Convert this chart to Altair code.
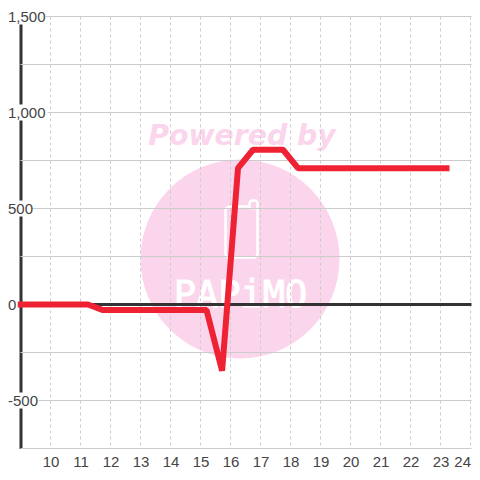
import altair as alt
import pandas as pd

# Series
hours = [8.9, 11.25, 11.75, 15.2, 15.72, 16.25, 16.75, 17.75, 18.25, 23.3]
values = [0, 0, -29, -29, -345, 710, 806, 806, 710, 710]

# Axes
x_ticks = list(range(10, 25))
y_grid = [1500, 1250, 1000, 750, 500, 250, -250, -500, -750]
y_labels = ["1,500", "1,000", "500", "0", "-500"]
y_label_values = [1500, 1000, 500, 0, -500]

X_DOMAIN = [9.0, 24.033]
Y_DOMAIN = [-750, 1500]
FONT = "Liberation Sans"
GRID = "#cccccc"
DARK = "#333333"
TEXT = "#444444"
RED = "#ee2233"
PINK = "#fbd5ec"

x_scale = alt.Scale(domain=X_DOMAIN, nice=False, zero=False)
y_scale = alt.Scale(domain=Y_DOMAIN, nice=False, zero=False)
x_axis = alt.Axis(
    values=x_ticks, grid=False, domain=False, ticks=False, labelPadding=6,
    labelFontSize=15, labelFont=FONT, labelColor=TEXT, format="d",
    labelOverlap=False, labelFlush=False, title=None,
    labelAlign={"condition": {"test": "datum.value == 24", "value": "right"}, "value": "center"},
)
y_axis = alt.Axis(
    values=y_label_values, grid=False, ticks=False, labels=False,
    domain=True, domainColor=DARK, domainWidth=3, title=None,
)

series = pd.DataFrame({"hour": hours, "value": values})
grid_h = pd.DataFrame({"value": y_grid})
grid_v = pd.DataFrame({"hour": x_ticks, "top": [1500] * len(x_ticks), "bottom": [-738] * len(x_ticks)})
labels = pd.DataFrame({"label": y_labels, "value": y_label_values})
labels["x0"] = -12.5
labels["x1"] = [
    {"1,500": 25, "1,000": 27, "500": 11, "0": -3, "-500": 18}[t] for t in y_labels
]
labels["tx"] = -12.5
one = pd.DataFrame({"a": [0]})

# Watermark (under the grid)
circle = alt.Chart(one).mark_point(
    shape="circle", filled=True, color=PINK, opacity=1, size=39600
).encode(x=alt.value(219.5), y=alt.value(242.5))
phone = alt.Chart(one).mark_rect(
    fill=PINK, stroke="white", strokeWidth=2.5, cornerRadius=4
).encode(x=alt.value(205), x2=alt.value(237), y=alt.value(190), y2=alt.value(241))
phone_tab = alt.Chart(one).mark_rect(
    fill=PINK, stroke="white", strokeWidth=2.5, cornerRadius=3
).encode(x=alt.value(229), x2=alt.value(237), y=alt.value(184), y2=alt.value(192))
phone_patch = alt.Chart(one).mark_rect(fill=PINK).encode(
    x=alt.value(230.5), x2=alt.value(235.7), y=alt.value(186), y2=alt.value(193)
)
logo = alt.Chart(pd.DataFrame({"t": ["PAPiMO"]})).mark_text(
    font="DejaVu Sans Mono", fontSize=37, color="white", stroke="white", strokeWidth=1,
    align="center", baseline="alphabetic"
).encode(x=alt.value(220), y=alt.value(290), text="t:N")
powered = alt.Chart(pd.DataFrame({"t": ["Powered by"]})).mark_text(
    font="DejaVu Sans", fontSize=28.3, fontWeight="bold", fontStyle="italic",
    color=PINK, align="center", baseline="alphabetic"
).encode(x=alt.value(221.5), y=alt.value(128), text="t:N")

h_rules = alt.Chart(grid_h).mark_rule(color=GRID, strokeWidth=1).encode(
    y=alt.Y("value:Q", scale=y_scale, axis=y_axis)
)
v_rules = alt.Chart(grid_v).mark_rule(color=GRID, strokeWidth=1, strokeDash=[3, 3]).encode(
    x=alt.X("hour:Q", scale=x_scale, axis=x_axis),
    y=alt.Y("top:Q", scale=y_scale, axis=y_axis),
    y2="bottom:Q",
)
zero = alt.Chart(pd.DataFrame({"value": [0]})).mark_rule(color=DARK, strokeWidth=3).encode(
    y=alt.Y("value:Q", scale=y_scale, axis=y_axis)
)
line = alt.Chart(series).mark_line(
    color=RED, strokeWidth=6, strokeJoin="bevel", strokeCap="butt", clip=False
).encode(
    x=alt.X("hour:Q", scale=x_scale, axis=x_axis),
    y=alt.Y("value:Q", scale=y_scale, axis=y_axis),
)
label_bg = alt.Chart(labels).mark_rect(color="white", height=16).encode(
    x=alt.X("x0:Q", scale=None),
    x2="x1:Q",
    y=alt.Y("value:Q", scale=y_scale, axis=y_axis),
)
label_text = alt.Chart(labels).mark_text(
    font=FONT, fontSize=15, color=TEXT, align="left", baseline="alphabetic", dy=5
).encode(
    x=alt.X("tx:Q", scale=None),
    y=alt.Y("value:Q", scale=y_scale, axis=y_axis),
    text="label:N",
)

chart = alt.layer(
    circle, phone, phone_tab, phone_patch, logo, powered,
    h_rules, v_rules, zero, line, label_bg, label_text,
).properties(
    width=451, height=432,
    padding={"left": 12.5, "top": 8.5, "right": 0.5, "bottom": 23.5},
    autosize=alt.AutoSizeParams(type="none"),
    background="white",
).configure_view(stroke=None)

chart.save("out.html", embed_options={"renderer": "svg", "actions": False})
